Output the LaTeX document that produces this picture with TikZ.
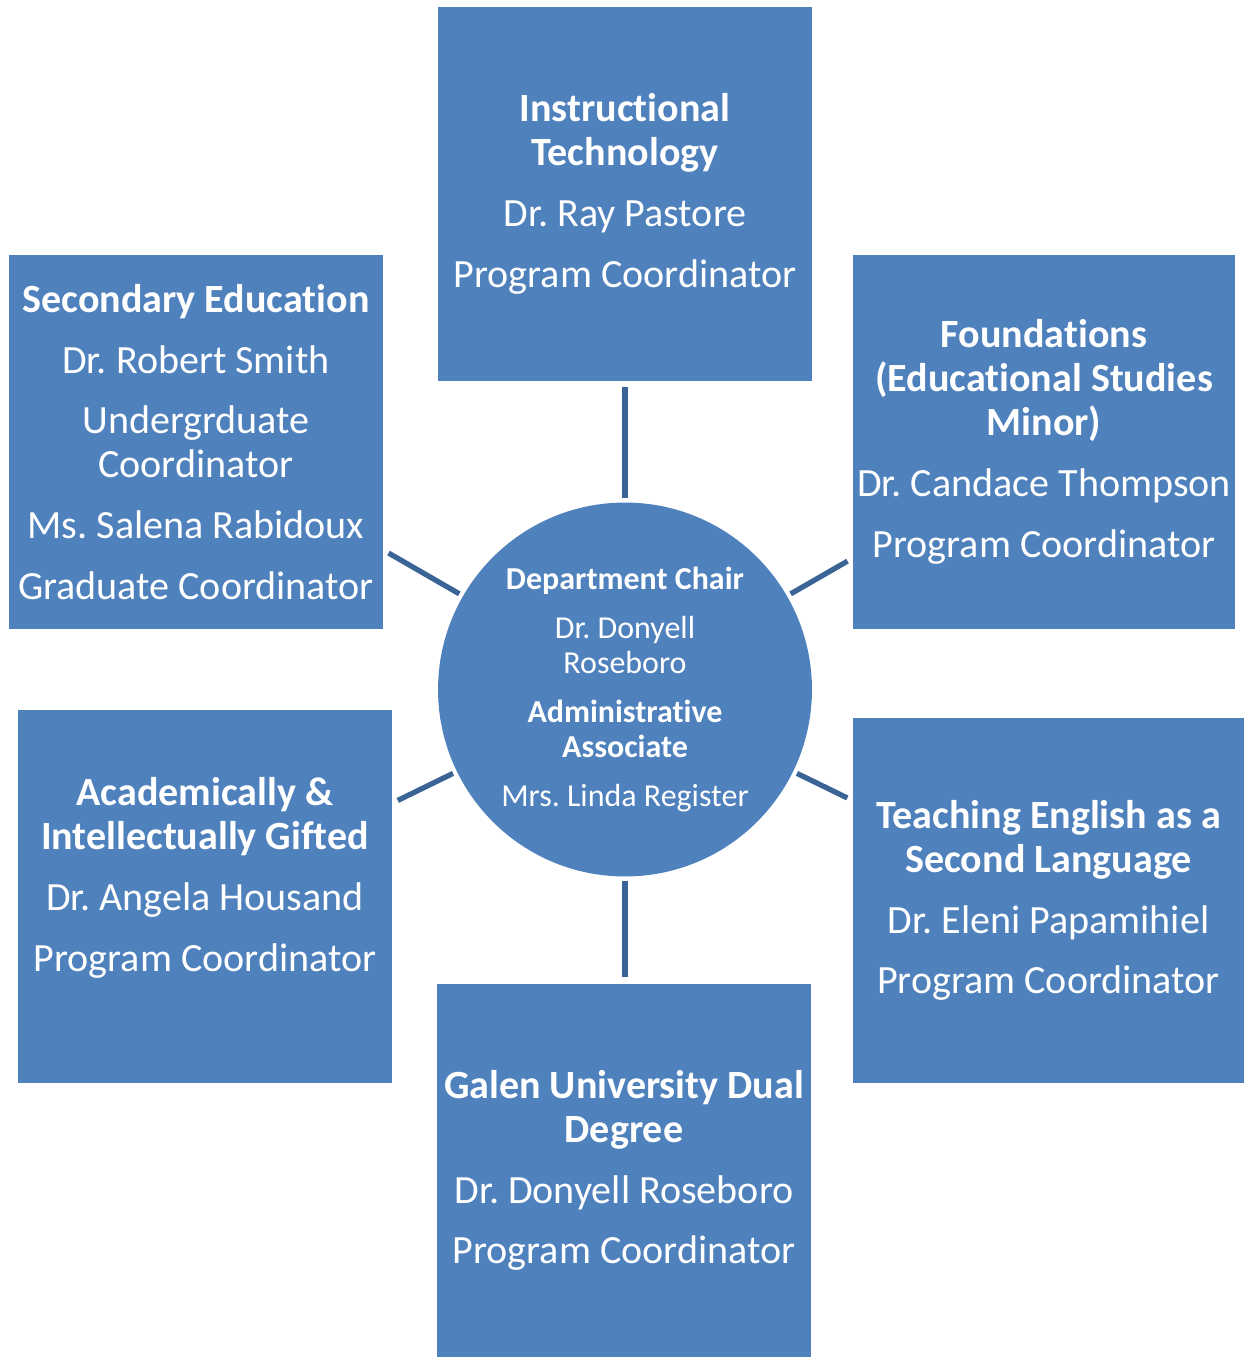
\documentclass[tikz,border=0pt]{standalone}
\usepackage{fontspec}
\setmainfont{Carlito}[Ligatures=NoCommon]
\usetikzlibrary{positioning}
\frenchspacing

\definecolor{unitblue}{HTML}{4F81BD}
\definecolor{linkblue}{HTML}{3A6496}

\begin{document}
\begin{tikzpicture}[x=0.02cm, y=-0.02cm,
    unit/.style={fill=unitblue, text=white, align=center, inner sep=0pt,
        minimum width=7.48cm, minimum height=7.48cm,
        font=\fontsize{22.8}{25}\selectfont},
    chair/.style={circle, fill=unitblue, text=white, align=center, inner sep=0pt,
        minimum size=7.48cm, font=\fontsize{18.2}{19.8}\selectfont},
    link/.style={draw=linkblue, line width=3pt, shorten <=0.08cm, shorten >=0.12cm}]
    \useasboundingbox (0,0) rectangle (1244,1357);

    % department chair in the middle
    \node[chair] (hub) at (625,689.5) {
        \textbf{Department Chair}\\[8pt]
        Dr. Donyell\\Roseboro\\[8pt]
        \textbf{Administrative}\\\textbf{Associate}\\[8pt]
        Mrs. Linda Register};

    % program areas
    \node[unit] (tech) at (625,194) {
        \textbf{Instructional}\\\textbf{Technology}\\[9.6pt]
        Dr. Ray Pastore\\[9.6pt]
        Program Coordinator};
    \node[unit] (sec) at (196,442) {
        \textbf{Secondary Education}\\[9.6pt]
        Dr. Robert Smith\\[9.6pt]
        Undergrduate\\Coordinator\\[9.6pt]
        Ms. Salena Rabidoux\\[9.6pt]
        Graduate Coordinator};
    \node[unit, minimum width=7.64cm] (fnd) at (1044,442) {
        \textbf{Foundations}\\\textbf{(Educational Studies}\\\textbf{Minor)}\\[9.6pt]
        Dr. Candace Thompson\\[9.6pt]
        Program Coordinator};
    \node[unit] (aig) at (205,896.5) {
        \textbf{Academically \&}\\\textbf{Intellectually Gifted}\\[9.6pt]
        Dr. Angela Housand\\[9.6pt]
        Program Coordinator\\\mbox{}};
    \node[unit, minimum width=7.82cm, minimum height=7.32cm] (tesl) at (1048.5,900.5) {
        \textbf{Teaching English as a}\\\textbf{Second Language}\\[9.6pt]
        Dr. Eleni Papamihiel\\[9.6pt]
        Program Coordinator};
    \node[unit] (galen) at (624,1170.5) {
        \textbf{Galen University Dual}\\\textbf{Degree}\\[9.6pt]
        Dr. Donyell Roseboro\\[9.6pt]
        Program Coordinator};

    % spokes
    \draw[link] (hub.north) -- (hub.north |- tech.south);
    \draw[link] (hub.south) -- (hub.south |- galen.north);
    \draw[link] (hub.150) -- (intersection of hub.center--hub.150 and sec.north east--sec.south east);
    \draw[link] (hub.30) -- (intersection of hub.center--hub.30 and fnd.north west--fnd.south west);
    \draw[link] (hub.206) -- (intersection of hub.center--hub.206 and aig.north east--aig.south east);
    \draw[link] (hub.334) -- (intersection of hub.center--hub.334 and tesl.north west--tesl.south west);
\end{tikzpicture}
\end{document}
